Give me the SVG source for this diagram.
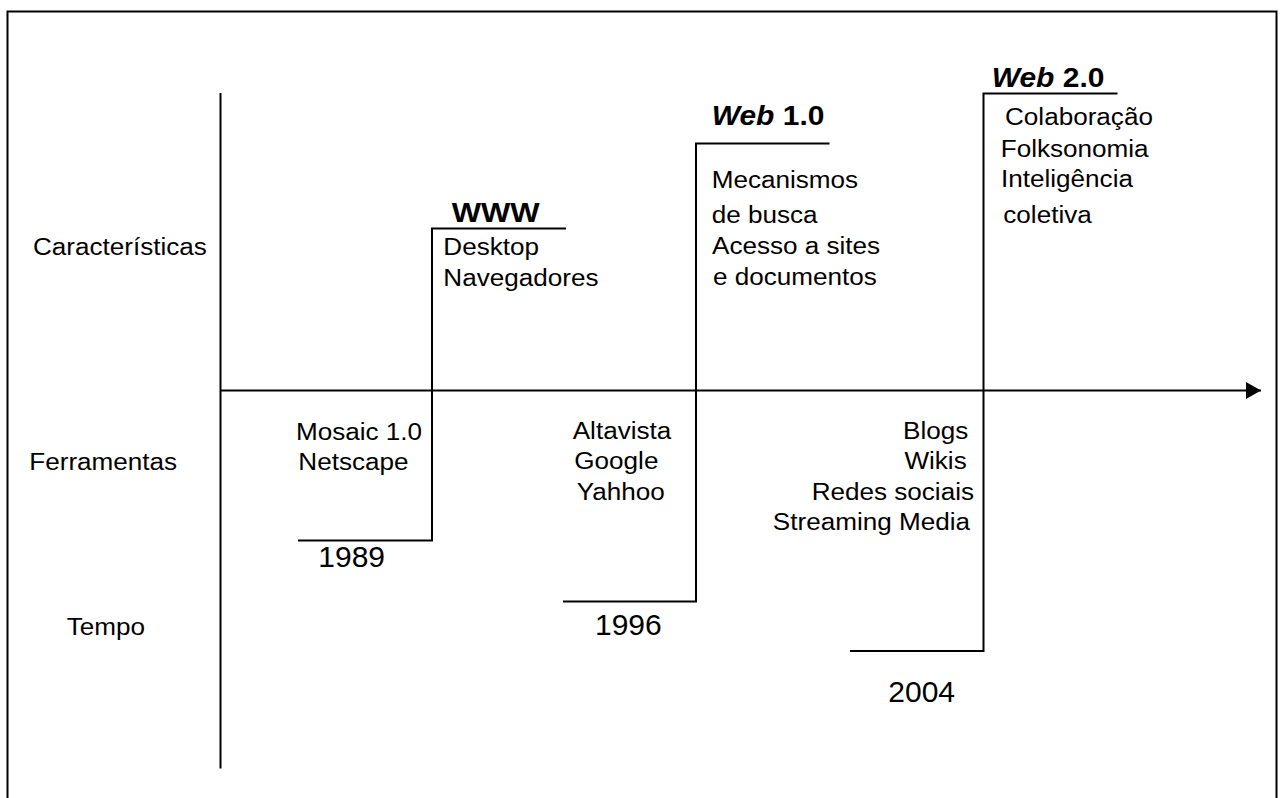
<svg xmlns="http://www.w3.org/2000/svg" width="1280" height="798" viewBox="0 0 1280 798">
<style>
.ln{fill:none;stroke:#000;stroke-width:2}
.t{font-family:"Liberation Sans",Arial,sans-serif;font-size:24.5px;fill:#000}
.e{text-anchor:end}
.h{font-family:"Liberation Sans",Arial,sans-serif;font-size:27px;font-weight:bold;fill:#000}
.y{font-family:"Liberation Sans",Arial,sans-serif;font-size:30px;fill:#000}
</style>
<defs>
<marker id="arr" markerWidth="16" markerHeight="18" refX="15" refY="8.5" orient="auto" markerUnits="userSpaceOnUse">
<polygon points="0,0 15,8.5 0,17" fill="#000"/>
</marker>
</defs>
<rect width="1280" height="798" fill="#fff"/>
<rect id="frame" x="7.5" y="11.5" width="1269" height="800" class="ln"/>
<g id="connectors">
<line x1="220.5" y1="93" x2="220.5" y2="768.5" class="ln"/>
<line x1="220.5" y1="390.5" x2="1261" y2="390.5" class="ln" marker-end="url(#arr)"/>
<path d="M298,540.5 H432 V228.5 H566" class="ln"/>
<path d="M563,601.5 H696 V143.5 H829.5" class="ln"/>
<path d="M850,651 H983.5 V93.5 H1117.5" class="ln"/>
</g>
<g id="row-labels">
<text class="t" transform="translate(33 255) scale(1.065 1)">Características</text>
<text class="t" transform="translate(29.3 469.5) scale(1.065 1)">Ferramentas</text>
<text class="t" transform="translate(66.7 635) scale(1.065 1)">Tempo</text>
</g>
<g id="era-1989">
<text class="h" transform="translate(451.7 221.5) scale(1.11 1)" style="font-size:28px">WWW</text>
<text class="t" transform="translate(443.3 255) scale(1.065 1)">Desktop</text>
<text class="t" transform="translate(443.3 286) scale(1.065 1)">Navegadores</text>
<text class="t" transform="translate(296 440) scale(1.065 1)">Mosaic 1.0</text>
<text class="t" transform="translate(298.3 470) scale(1.065 1)">Netscape</text>
<text class="y" x="318.3" y="566.7">1989</text>
</g>
<g id="era-1996">
<text class="h" transform="translate(711.7 125) scale(1.11 1)"><tspan font-style="italic">Web</tspan> 1.0</text>
<text class="t" transform="translate(711.7 188) scale(1.065 1)">Mecanismos</text>
<text class="t" transform="translate(711.7 222.7) scale(1.065 1)">de busca</text>
<text class="t" transform="translate(712 254) scale(1.065 1)">Acesso a sites</text>
<text class="t" transform="translate(713 284.5) scale(1.065 1)">e documentos</text>
<text class="t" transform="translate(572.7 439.3) scale(1.065 1)">Altavista</text>
<text class="t" transform="translate(574.3 468.5) scale(1.065 1)">Google</text>
<text class="t" transform="translate(576.7 500) scale(1.065 1)">Yahhoo</text>
<text class="y" x="595" y="635">1996</text>
</g>
<g id="era-2004">
<text class="h" transform="translate(991.7 86.7) scale(1.11 1)"><tspan font-style="italic">Web</tspan> 2.0</text>
<text class="t" transform="translate(1005 125) scale(1.065 1)">Colaboração</text>
<text class="t" transform="translate(1000.7 156.7) scale(1.065 1)">Folksonomia</text>
<text class="t" transform="translate(1001 187.3) scale(1.065 1)">Inteligência</text>
<text class="t" transform="translate(1003.3 223.3) scale(1.065 1)">coletiva</text>
<text class="t e" transform="translate(968.3 439.3) scale(1.065 1)">Blogs</text>
<text class="t e" transform="translate(966.7 469.3) scale(1.065 1)">Wikis</text>
<text class="t e" transform="translate(974 500) scale(1.065 1)">Redes sociais</text>
<text class="t e" transform="translate(970 530) scale(1.065 1)">Streaming Media</text>
<text class="y" x="888.3" y="701.7">2004</text>
</g>
</svg>
